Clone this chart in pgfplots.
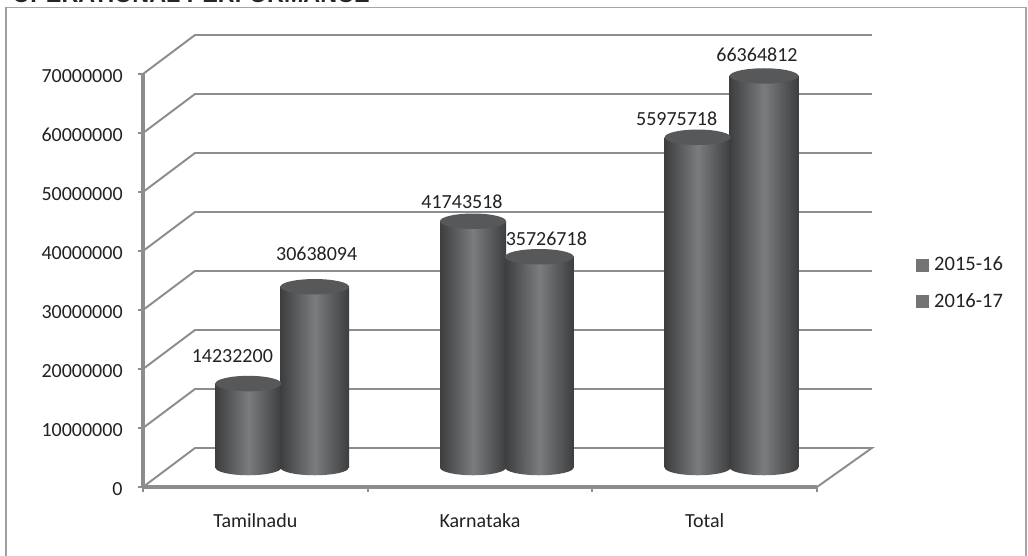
\documentclass[border=0pt]{standalone}
\usepackage{pgfplots}
\usepackage{pgfplotstable}
\usepackage{fontspec}
\pgfplotsset{compat=1.18}
\setmainfont{Carlito}
\newfontfamily\headfont{Liberation Sans}

\definecolor{rulegrey}{HTML}{8C8D8F}
\definecolor{framegrey}{HTML}{A6A6A6}
\definecolor{cyldark}{HTML}{3D3E40}
\definecolor{cylmid}{HTML}{7B7C7E}
\definecolor{captop}{HTML}{57585A}
\definecolor{keygrey}{HTML}{737476}
\definecolor{inktext}{HTML}{222222}

% Per-bar values; dx, dy place each value label relative to its cylinder top.
\pgfplotstableread{
x   v         dx    dy
0.5 14232200  -16   27
1.5 41743518  -11   20
2.5 55975718  -21   19
}\seriesA
\pgfplotstableread{
x   v         dx    dy
0.5 30638094  2     33
1.5 35726718  7     18
2.5 66364812  -7    21
}\seriesB

% Cylinder ends: tilted ellipses, flat on top and shaded at the foot.
\pgfdeclareplotmark{cyltop}{\fill[captop,draw=none,rotate=6] (0,0) ellipse (24.75pt and 5.8pt);}
\pgfdeclareplotmark{cylfoot}{\shade[draw=none,left color=cyldark,right color=cyldark,middle color=cylmid,rotate=6] (0,0) ellipse (24.75pt and 5.8pt);}

\pgfplotsset{
  depth/.style={xshift=19.5pt,yshift=14.6pt},
  cylbody/.style={ybar,draw=none,left color=cyldark,right color=cyldark,middle color=cylmid,forget plot},
  gridrule/.style={rulegrey,line width=1.45pt,forget plot},
  valuelabels/.style={
    visualization depends on={\thisrow{dx}\as\labdx},
    visualization depends on={\thisrow{dy}\as\labdy},
    point meta=explicit symbolic,nodes near coords,
    every node near coord/.append style={anchor=center,xshift=\labdx*0.75pt,yshift=\labdy*0.75pt},
  },
  keysquare/.style={legend image code/.code={\fill[keygrey] (0pt,-4.4pt) rectangle (9pt,4.4pt);\path (11.5pt,0pt);}},
}

\begin{document}
\begin{tikzpicture}
\path[use as bounding box,clip] (0,0) rectangle (771pt,417pt);
\fill[white] (0,0) rectangle (771pt,417pt);

% heading, cut by the top edge of the page
\node[anchor=base west,inner sep=0pt,font=\headfont\bfseries\fontsize{17.5pt}{20pt}\selectfont,text=black!85]
  at (9pt,415pt) {OPERATIONAL PERFORMANCE};

% outer chart frame
\draw[framegrey,line width=1pt] (4.5pt,-5pt) -- (4.5pt,411.4pt) -- (769.5pt,411.4pt) -- (769.5pt,-5pt);
\draw[rulegrey!85,line width=1.8pt] (4.5pt,-5pt) -- (4.5pt,411.4pt);

\begin{axis}[
  at={(107.25pt,51.75pt)},
  anchor=south west,
  scale only axis,
  width=505.5pt,
  height=309.75pt,
  xmin=0,xmax=3,
  ymin=0,ymax=70000000,
  clip=false,
  axis x line=bottom,
  axis y line=left,
  axis line style={rulegrey,line width=2.3pt,-},
  tick style={rulegrey,line width=1.45pt},
  tick align=outside,
  major tick length=3.75pt,
  minor tick length=3.75pt,
  xtick={0.5,1.5,2.5},
  xticklabels={Tamilnadu,Karnataka,Total},
  minor xtick={0,1,2,3},
  x tick style={draw=none},
  minor x tick style={draw=rulegrey,line width=1.45pt},
  ytick={0,10000000,20000000,30000000,40000000,50000000,60000000,70000000},
  scaled y ticks=false,
  /pgf/number format/.cd,fixed,1000 sep={},assume math mode=true,
  /pgfplots/.cd,
  tick label style={font=\fontsize{15pt}{18pt}\selectfont,text=inktext},
  yticklabel style={xshift=-8pt,yshift=-1.2pt},
  xticklabel style={yshift=-13pt},
  legend style={
    at={(1.147,0.4935)},anchor=west,draw=none,fill=none,
    font=\fontsize{15.4pt}{18pt}\selectfont,text=inktext,
    row sep=12.5pt,inner sep=0pt,
    nodes={inner sep=1.5pt},
  },
  legend cell align=left,
  nodes near coords style={font=\fontsize{15pt}{18pt}\selectfont,text=inktext},
]
% wall and floor rules: each runs back from the left axis and along the rear wall
\addplot[gridrule] coordinates {(0,0)(0.2314,6610000)(3.2445,6610000)(3,0)};
\addplot[gridrule] coordinates {(0,10000000)(0.2314,16610000)(3.2445,16610000)};
\addplot[gridrule] coordinates {(0,20000000)(0.2314,26610000)(3.2445,26610000)};
\addplot[gridrule] coordinates {(0,30000000)(0.2314,36610000)(3.2445,36610000)};
\addplot[gridrule] coordinates {(0,40000000)(0.2314,46610000)(3.2445,46610000)};
\addplot[gridrule] coordinates {(0,50000000)(0.2314,56610000)(3.2445,56610000)};
\addplot[gridrule] coordinates {(0,60000000)(0.2314,66610000)(3.2445,66610000)};
\addplot[gridrule] coordinates {(0,70000000)(0.2314,76610000)(3.2445,76610000)};

% 2015-16 cylinders, one plot per cylinder so that each carries its own shading
\addplot[only marks,mark=cylfoot,depth,xshift=-24.75pt,forget plot] table[x=x,y expr=0] {\seriesA};
\pgfplotsinvokeforeach{0:1,1:2,2:3}{
  \addplot[cylbody,depth,bar width=49.5pt,bar shift=-24.75pt,restrict x to domain=#1] table[x=x,y=v] {\seriesA};
}
\addplot[only marks,mark=cyltop,depth,xshift=-24.75pt,forget plot,valuelabels] table[x=x,y=v,meta=v] {\seriesA};

% 2016-17 cylinders
\addplot[only marks,mark=cylfoot,mark options={xscale=1.04},depth,xshift=25pt,forget plot] table[x=x,y expr=0] {\seriesB};
\pgfplotsinvokeforeach{0:1,1:2,2:3}{
  \addplot[cylbody,depth,bar width=51.5pt,bar shift=25pt,restrict x to domain=#1] table[x=x,y=v] {\seriesB};
}
\addplot[only marks,mark=cyltop,mark options={xscale=1.04},depth,xshift=25pt,forget plot,valuelabels] table[x=x,y=v,meta=v] {\seriesB};

\addlegendimage{keysquare}
\addlegendentry{2015-16}
\addlegendimage{keysquare}
\addlegendentry{2016-17}
\end{axis}
\end{tikzpicture}
\end{document}
